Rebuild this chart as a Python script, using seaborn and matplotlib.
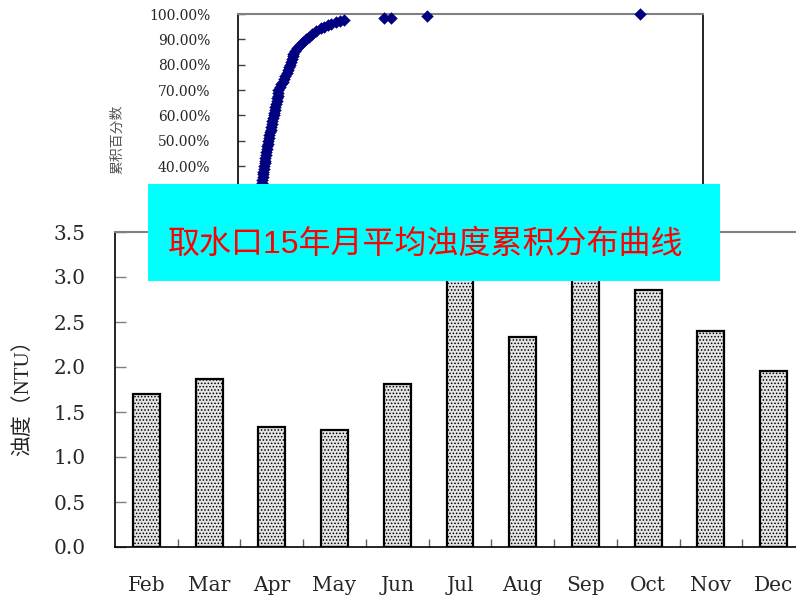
import numpy as np
import matplotlib
matplotlib.use("Agg")
import matplotlib.pyplot as plt
from matplotlib.ticker import FixedLocator
import seaborn as sns

# Monthly mean turbidity at the intake (NTU)
months = ["Feb", "Mar", "Apr", "May", "Jun", "Jul", "Aug", "Sep", "Oct", "Nov", "Dec"]
turbidity = [1.70, 1.87, 1.33, 1.30, 1.81, 3.20, 2.33, 3.30, 2.86, 2.40, 1.96]
bar_ticks = [0.0, 0.5, 1.0, 1.5, 2.0, 2.5, 3.0, 3.5]

# Cumulative distribution of the 15-year monthly means: value (NTU) vs cumulative share (%)
cdf_value = [1.00, 1.01, 1.02, 1.04, 1.06, 1.08, 1.09, 1.11, 1.13, 1.14, 1.16, 1.18,
             1.20, 1.22, 1.23, 1.25, 1.27, 1.30,
             1.33, 1.35, 1.38, 1.40, 1.42, 1.45, 1.48, 1.51, 1.54, 1.56, 1.59, 1.61,
             1.64, 1.66, 1.68, 1.70, 1.71, 1.73,
             1.80, 1.86, 1.92, 1.97, 2.03, 2.09, 2.14, 2.18, 2.22, 2.27, 2.31, 2.35, 2.38,
             2.45, 2.55, 2.66, 2.80, 2.92, 3.05, 3.20, 3.35, 3.55, 3.70, 3.85, 4.02,
             4.20, 4.38, 4.58,
             6.30, 6.58, 8.12, 17.30]
cdf_percent = [31.1, 32.2, 33.3, 34.4, 35.6, 36.7, 37.8, 38.9, 40.0, 41.1, 42.2, 43.3,
               44.4, 45.6, 46.7, 47.8, 48.9, 50.0,
               51.1, 52.2, 53.3, 54.4, 55.6, 56.7, 57.8, 58.9, 60.0, 61.1, 62.2, 63.3,
               64.4, 65.6, 66.7, 67.8, 68.9, 70.0,
               71.1, 72.2, 73.3, 74.4, 75.6, 76.7, 77.8, 78.9, 80.0, 81.1, 82.2, 83.3, 84.4,
               85.6, 86.7, 87.8, 88.9, 90.0, 91.1, 92.2, 93.3, 94.4, 95.0, 95.6, 96.1,
               96.7, 97.2, 97.8,
               98.3, 98.6, 99.4, 100.0]
cdf_ticks = [0.0, 0.1, 0.2, 0.3, 0.4, 0.5, 0.6, 0.7, 0.8, 0.9, 1.0]

title = "取水口15年月平均浊度累积分布曲线"

sns.set_style("white")
plt.rcParams["font.family"] = ["DejaVu Serif", "Noto Sans CJK SC"]
plt.rcParams["hatch.linewidth"] = 0.7

W, H = 796, 595
fig = plt.figure(figsize=(W / 100, H / 100), dpi=100)
fig.patch.set_facecolor("white")

# ---- monthly bar chart ----
ax = fig.add_axes([115 / W, 1 - 547 / H, 690 / W, 315 / H])
sns.barplot(x=months, y=turbidity, ax=ax, width=0.43, color="#e4e4e4",
            edgecolor="black", linewidth=1.6, hatch=".....", saturation=1)
ax.set_xlim(-0.5, len(months) - 0.5)
ax.set_ylim(0, 3.5)
ax.set_yticks(bar_ticks)
ax.set_yticklabels([f"{v:.1f}" for v in bar_ticks])
ax.xaxis.set_minor_locator(FixedLocator(np.arange(0.5, len(months) - 0.5, 1.0)))
ax.tick_params(axis="y", direction="in", length=8, width=1, color="#808080",
               pad=21, labelsize=14.5, left=True)
ax.tick_params(axis="x", which="major", length=0, pad=21, labelsize=14.5)
ax.tick_params(axis="x", which="minor", direction="in", length=6, width=1,
               color="#606060", bottom=True)
ax.set_xlabel("")
ax.set_ylabel("")
for side in ["left", "bottom"]:
    ax.spines[side].set_color("black")
    ax.spines[side].set_linewidth(1.2)
ax.spines["top"].set_color("#808080")
ax.spines["top"].set_linewidth(1.5)
ax.spines["right"].set_visible(False)

fig.text(23 / W, 1 - 393 / H, "浊度（NTU）", rotation=90, ha="center", va="center",
         fontsize=15, color="#222222",
         family=["Liberation Serif", "Noto Sans CJK SC"])

# ---- cumulative distribution scatter ----
ax2 = fig.add_axes([238 / W, 1 - 267.5 / H, 465 / W, 253.5 / H])
ax2.set_facecolor("white")
sns.scatterplot(x=cdf_value, y=np.array(cdf_percent) / 100, ax=ax2, marker="D",
                s=36, color="#000080", edgecolor="#000080", linewidth=0.3,
                clip_on=False, zorder=5)
ax2.set_xlim(0, 20)
ax2.set_ylim(0, 1)
ax2.set_xticks([])
ax2.set_yticks(cdf_ticks)
# labels below 40% sit under the title banner
ax2.set_yticklabels([f"{v * 100:.2f}%" if v >= 0.35 else "" for v in cdf_ticks])
ax2.tick_params(axis="y", direction="in", length=5, width=1, color="#404040",
                pad=20, labelsize=10, left=True)
ax2.spines["top"].set_color("#808080")
ax2.spines["top"].set_linewidth(1.5)
for side in ["left", "right"]:
    ax2.spines[side].set_color("black")
    ax2.spines[side].set_linewidth(1.2)
ax2.spines["bottom"].set_visible(False)

fig.text(117 / W, 1 - 139 / H, "累积百分数", rotation=90, ha="center", va="center",
         fontsize=10, color="#555555")

# ---- title banner ----
ax3 = fig.add_axes([148 / W, 1 - 281 / H, 572 / W, 97 / H], zorder=10)
ax3.set_facecolor("#00ffff")
ax3.set_xticks([])
ax3.set_yticks([])
for s in ax3.spines.values():
    s.set_visible(False)
ax3.text(20 / 572, (281 - 245) / 97, title, transform=ax3.transAxes, ha="left",
         va="center", fontsize=23, color="#ff0000",
         family=["Liberation Sans", "Noto Sans CJK SC"])

fig.savefig("out.png", dpi=100)
